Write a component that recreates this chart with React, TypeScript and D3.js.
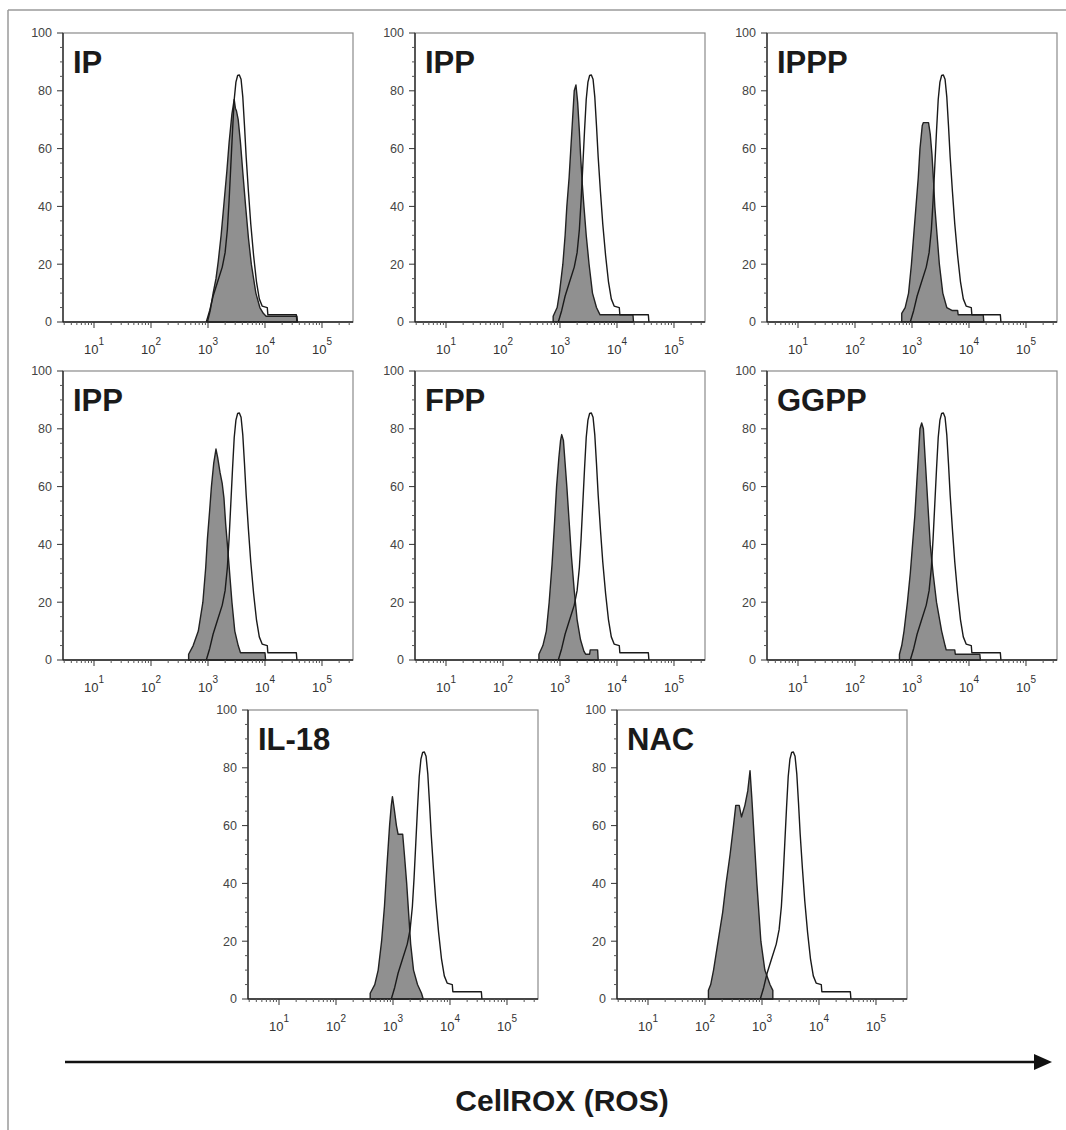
import * as d3 from "d3";

// histogram outlines: [log10 fluorescence, % of max]
const controlCurve: [number, number][] = [
  [2.97, 0], [3.03, 4], [3.09, 9], [3.17, 14], [3.25, 19], [3.3, 24], [3.34, 32], [3.37, 42],
  [3.4, 54], [3.43, 66], [3.46, 77], [3.49, 83], [3.52, 85.3], [3.55, 85.5], [3.58, 84], [3.61, 78], [3.64, 68],
  [3.67, 57], [3.71, 45], [3.75, 34], [3.8, 23], [3.85, 14], [3.9, 8], [3.95, 5.5], [4.04, 5],
  [4.05, 2.5], [4.55, 2.5], [4.56, 0],
];

const ipCurve: [number, number][] = [
  [2.99, 0], [3.04, 4], [3.09, 10], [3.14, 15], [3.18, 21], [3.23, 30], [3.28, 41], [3.33, 52],
  [3.37, 62], [3.42, 72], [3.46, 77], [3.48, 74], [3.5, 73], [3.53, 70], [3.57, 62], [3.61, 52],
  [3.66, 40], [3.71, 29], [3.76, 20], [3.84, 10], [3.91, 5], [3.97, 3], [4.02, 2], [4.56, 2], [4.57, 0],
];

const ippCurve: [number, number][] = [
  [2.88, 0], [2.88, 2], [2.95, 5], [2.99, 10], [3.05, 20], [3.09, 30], [3.12, 40], [3.16, 50],
  [3.19, 60], [3.22, 70], [3.25, 80], [3.28, 82], [3.31, 76], [3.34, 66], [3.36, 58], [3.39, 48],
  [3.42, 40], [3.46, 30], [3.51, 20], [3.57, 10], [3.64, 5], [3.69, 3], [3.7, 2.5], [4.28, 2.5], [4.29, 0],
];

const ipppCurve: [number, number][] = [
  [2.82, 0], [2.82, 3], [2.88, 5], [2.94, 10], [2.99, 20], [3.03, 30], [3.07, 40], [3.11, 50],
  [3.14, 60], [3.18, 68], [3.2, 69], [3.29, 69], [3.32, 65], [3.35, 58], [3.38, 48], [3.4, 40],
  [3.44, 30], [3.48, 20], [3.54, 10], [3.61, 5], [3.7, 4], [3.8, 4], [3.81, 2.5], [4.25, 2.5], [4.26, 0],
];

const ipp2Curve: [number, number][] = [
  [2.66, 0], [2.66, 2], [2.74, 5], [2.83, 10], [2.91, 20], [2.96, 32], [2.99, 42], [3.03, 52],
  [3.06, 60], [3.1, 68], [3.14, 73], [3.17, 70], [3.21, 65], [3.25, 61], [3.28, 56], [3.31, 47],
  [3.34, 40], [3.38, 30], [3.42, 20], [3.47, 10], [3.53, 5], [3.57, 2.5], [4.0, 2.5], [4.01, 0],
];

const fppCurve: [number, number][] = [
  [2.63, 0], [2.63, 2], [2.7, 5], [2.76, 10], [2.81, 20], [2.86, 33], [2.9, 46], [2.94, 60],
  [2.98, 70], [3.01, 76], [3.03, 78], [3.06, 76], [3.09, 68], [3.12, 60], [3.16, 48], [3.2, 36],
  [3.25, 24], [3.3, 14], [3.36, 7], [3.42, 3], [3.45, 2], [3.52, 2], [3.53, 3.5], [3.66, 3.5], [3.67, 0],
];

const ggppCurve: [number, number][] = [
  [2.78, 0], [2.78, 2], [2.82, 5], [2.86, 10], [2.92, 20], [2.97, 30], [3.01, 40], [3.05, 50],
  [3.08, 60], [3.11, 70], [3.14, 80], [3.17, 82], [3.2, 80], [3.23, 70], [3.26, 60], [3.29, 50],
  [3.32, 40], [3.37, 30], [3.43, 20], [3.52, 10], [3.58, 5], [3.6, 3.5], [3.75, 3.5], [3.76, 2],
  [4.19, 2], [4.2, 0],
];

const il18Curve: [number, number][] = [
  [2.6, 0], [2.6, 2], [2.68, 5], [2.74, 10], [2.8, 20], [2.85, 32], [2.89, 45], [2.94, 60],
  [2.97, 67], [2.99, 70], [3.02, 66], [3.06, 60], [3.09, 57], [3.17, 57], [3.2, 50], [3.24, 40],
  [3.28, 28], [3.31, 19], [3.36, 10], [3.43, 5], [3.5, 2], [3.53, 0],
];

const nacCurve: [number, number][] = [
  [2.06, 0], [2.06, 3], [2.1, 5], [2.15, 10], [2.23, 20], [2.31, 30], [2.37, 40], [2.44, 50],
  [2.5, 60], [2.54, 67], [2.6, 67], [2.64, 63], [2.7, 67], [2.75, 72], [2.79, 79], [2.82, 70],
  [2.85, 60], [2.91, 40], [2.98, 20], [3.05, 10], [3.14, 5], [3.19, 3], [3.19, 0],
];

const panelNames = ["IP", "IPP", "IPPP", "IPP", "FPP", "GGPP", "IL-18", "NAC"];
const treatedCurves = [ipCurve, ippCurve, ipppCurve, ipp2Curve, fppCurve, ggppCurve, il18Curve, nacCurve];
const yTicks = [0, 20, 40, 60, 80, 100];
const xDecades = [1, 2, 3, 4, 5];
const axisTitle = "CellROX (ROS)";

// plot-box origins
const layout = [
  { left: 63, top: 33 }, { left: 415, top: 33 }, { left: 767, top: 33 },
  { left: 63, top: 371 }, { left: 415, top: 371 }, { left: 767, top: 371 },
  { left: 248, top: 710 }, { left: 617, top: 710 },
];

const W = 290;
const H = 289;
const FONT = "'Liberation Sans', Arial, Helvetica, sans-serif";

function Panel({ name, curve, left, top }: { name: string; curve: [number, number][]; left: number; top: number }) {
  const x = d3.scaleLog().domain([10 ** 0.456, 10 ** 5.544]).range([0, W]);
  const y = d3.scaleLinear().domain([0, 100]).range([H, 0]);
  const px = (d: [number, number]) => x(10 ** d[0]);

  const area = d3.area<[number, number]>().x(px).y0(H).y1((d) => y(d[1]));
  const line = d3.line<[number, number]>().x(px).y((d) => y(d[1]));

  const [lo, hi] = x.domain();
  const minorX: number[] = [];
  for (let k = 0; k <= 5; k++) {
    for (let m = 2; m <= 9; m++) {
      const v = m * 10 ** k;
      if (v >= lo && v <= hi) minorX.push(v);
    }
  }
  const minorY = d3.range(0, 101, 5).filter((v) => v % 20 !== 0);

  return (
    <g transform={`translate(${left},${top})`}>
      <rect x={0} y={0} width={W} height={H} fill="none" stroke="#8a8a8a" strokeWidth={1.2} />

      <path d={area(curve) ?? ""} fill="#909090" stroke="#222" strokeWidth={1.4} strokeLinejoin="round" />
      <path d={line(controlCurve) ?? ""} fill="none" stroke="#1a1a1a" strokeWidth={1.4} strokeLinejoin="round" />

      <line x1={0} x2={0} y1={0} y2={H} stroke="#222" strokeWidth={1.3} />
      <line x1={0} x2={W} y1={H} y2={H} stroke="#222" strokeWidth={1.3} />

      {yTicks.map((t) => (
        <g key={t} transform={`translate(0,${y(t)})`}>
          <line x1={-6} x2={0} stroke="#333" />
          <text x={-11} dy="0.35em" textAnchor="end" fontSize={12.5} fill="#444" fontFamily={FONT}>
            {t}
          </text>
        </g>
      ))}
      {minorY.map((t) => (
        <line key={t} x1={-3} x2={0} y1={y(t)} y2={y(t)} stroke="#555" />
      ))}

      {minorX.map((v) => (
        <line key={v} x1={x(v)} x2={x(v)} y1={H} y2={H + 3} stroke="#555" />
      ))}
      {xDecades.map((k) => (
        <g key={k} transform={`translate(${x(10 ** k)},${H})`}>
          <line y1={0} y2={6} stroke="#333" />
          <text y={32} textAnchor="middle" fontSize={13} fill="#333" fontFamily={FONT}>
            <tspan>10</tspan>
            <tspan dy={-9} fontSize={10}>{k}</tspan>
          </text>
        </g>
      ))}

      <text x={10} y={40} fontSize={31} fontWeight="bold" fill="#1a1a1a" fontFamily={FONT}>
        {name}
      </text>
    </g>
  );
}

export default function App() {
  return (
    <>
      <style>{"body{margin:0}"}</style>
      <svg width={1066} height={1130} style={{ display: "block", background: "#fff" }}>
        <line x1={8} x2={1066} y1={10} y2={10} stroke="#9a9a9a" strokeWidth={1.5} />
        <line x1={8} x2={8} y1={10} y2={1130} stroke="#9a9a9a" strokeWidth={1.5} />

        {panelNames.map((name, i) => (
          <Panel key={i} name={name} curve={treatedCurves[i]} left={layout[i].left} top={layout[i].top} />
        ))}

        <line x1={65} x2={1040} y1={1062} y2={1062} stroke="#111" strokeWidth={2.5} />
        <path d="M1034,1054 L1052,1062 L1034,1070 Z" fill="#111" />
        <text x={562} y={1111} textAnchor="middle" fontSize={30} fontWeight="bold" fill="#1a1a1a" fontFamily={FONT}>
          {axisTitle}
        </text>
      </svg>
    </>
  );
}
